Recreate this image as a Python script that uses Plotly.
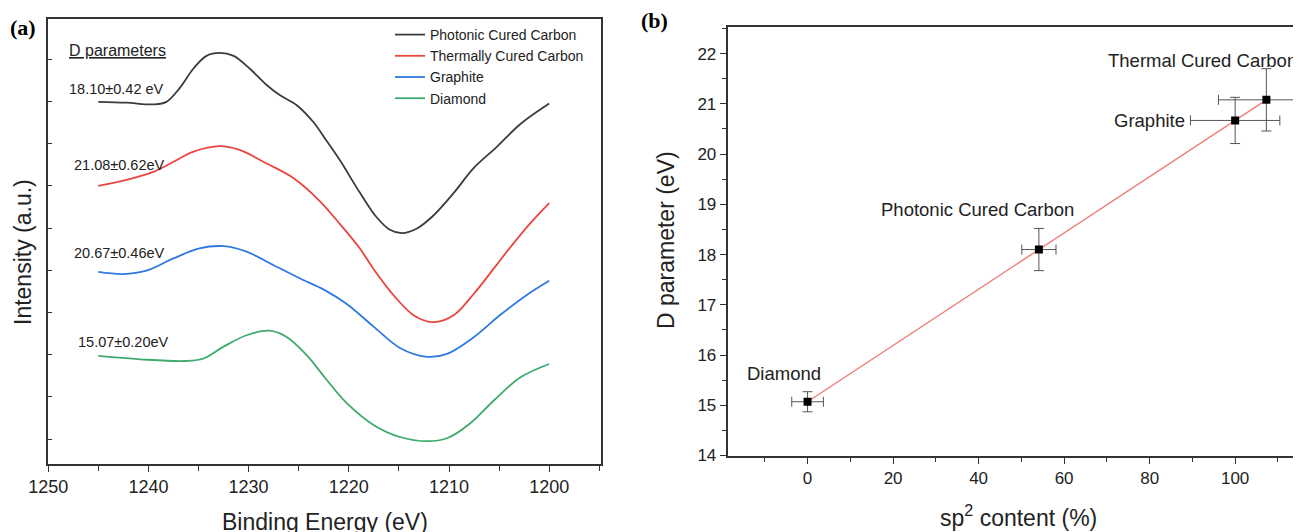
import numpy as np
import plotly.graph_objects as go

# ---------------- Panel (a): D-parameter spectra ----------------
series_names = ["Photonic Cured Carbon", "Thermally Cured Carbon", "Graphite", "Diamond"]
series_colors = ["#3c3c3c", "#e8463f", "#2f7ae0", "#3faa6c"]

energy_photonic = [1245, 1242.2, 1239.5, 1238.2, 1236.9, 1235.5, 1234.2, 1232.9, 1231.5, 1229.9,
                   1228.2, 1226.9, 1225.2, 1223.5, 1222.4, 1220.9, 1218.9, 1217.2, 1215.9, 1214.7,
                   1213.2, 1211.5, 1209.5, 1207.5, 1205.2, 1202.9, 1200]
intensity_photonic = [7.99, 7.97, 7.93, 7.99, 8.31, 8.78, 9.08, 9.15, 9.08, 8.78,
                      8.39, 8.15, 7.91, 7.50, 7.13, 6.61, 5.84, 5.25, 4.96, 4.88,
                      4.99, 5.31, 5.84, 6.43, 6.93, 7.46, 7.95]

energy_thermal = [1245, 1242.2, 1239.5, 1237.5, 1235.5, 1232.9, 1230.9, 1228.2, 1225.5, 1222.9,
                  1220.9, 1219.0, 1217.5, 1215.5, 1213.5, 1211.5, 1209.5, 1207.5, 1205.5, 1204.2,
                  1202.2, 1200]
intensity_thermal = [6.00, 6.14, 6.33, 6.57, 6.81, 6.94, 6.85, 6.53, 6.18, 5.64,
                     5.10, 4.55, 4.02, 3.40, 2.93, 2.77, 2.94, 3.45, 4.05, 4.45,
                     5.03, 5.59]

energy_graphite = [1245, 1242.5, 1240.2, 1237.5, 1234.9, 1232.5, 1230.2, 1227.5, 1224.9, 1222.4,
                   1220.2, 1217.5, 1214.9, 1212.2, 1210.2, 1207.5, 1204.9, 1202.2, 1200]
intensity_graphite = [3.96, 3.91, 3.99, 4.28, 4.52, 4.57, 4.44, 4.12, 3.81, 3.53,
                      3.20, 2.66, 2.16, 1.95, 2.02, 2.42, 2.94, 3.42, 3.75]

energy_diamond = [1245, 1240.8, 1236.2, 1234.5, 1232.5, 1230.2, 1227.9, 1226.2, 1224.2, 1222.4,
                  1220.2, 1217.5, 1214.9, 1212.2, 1210.2, 1207.9, 1205.5, 1202.9, 1200]
intensity_diamond = [1.97, 1.89, 1.85, 1.91, 2.19, 2.46, 2.57, 2.42, 1.99, 1.46,
                     0.85, 0.33, 0.05, -0.05, 0.02, 0.37, 0.92, 1.46, 1.78]

d_labels = ["18.10±0.42 eV", "21.08±0.62eV", "20.67±0.46eV", "15.07±0.20eV"]
d_label_pos = [(1248.1, 8.29), (1247.65, 6.49), (1247.65, 4.41), (1247.2, 2.31)]

# ---------------- Panel (b): D parameter vs sp2 ----------------
materials = ["Diamond", "Photonic Cured Carbon", "Graphite", "Thermal Cured Carbon"]
sp2_content = [0, 54.1, 100, 107.3]
sp2_err = [3.7, 4.0, 10.45, 11.2]
d_param = [15.07, 18.10, 20.67, 21.08]
d_err = [0.20, 0.42, 0.46, 0.62]

FONT = "Liberation Sans, Arial, sans-serif"
AX = "#333333"

fig = go.Figure()

spectra = [(energy_photonic, intensity_photonic), (energy_thermal, intensity_thermal),
           (energy_graphite, intensity_graphite), (energy_diamond, intensity_diamond)]
for (ex, iy), name, col in zip(spectra, series_names, series_colors):
    fig.add_trace(go.Scatter(x=ex, y=iy, mode="lines", name=name,
                             line=dict(color=col, width=1.8, shape="spline", smoothing=1.0),
                             xaxis="x", yaxis="y"))

# linear fit line
slope, intercept = np.polyfit(sp2_content, d_param, 1)
fit_x = np.array([min(sp2_content), max(sp2_content)])
fig.add_trace(go.Scatter(x=fit_x, y=slope * fit_x + intercept, mode="lines",
                         line=dict(color="#ec7a74", width=1.3), showlegend=False,
                         xaxis="x2", yaxis="y2"))

fig.add_trace(go.Scatter(x=sp2_content, y=d_param, mode="markers", showlegend=False,
                         marker=dict(symbol="square", size=8, color="black"),
                         error_x=dict(type="data", array=sp2_err, color="#555555", thickness=1, width=5),
                         error_y=dict(type="data", array=d_err, color="#555555", thickness=1, width=5),
                         xaxis="x2", yaxis="y2"))

# the page body has an 8px default margin: the figure is offset by it
OFF = 8
W, H = 1301 - OFF, 532 - OFF

def px(x):
    return (x - OFF) / W

def py(y):
    return 1 - (y - OFF) / H

annotations = []
# panel (a) annotations
annotations.append(dict(text="<u>D parameters</u>", x=1248.15, y=9.20, xref="x", yref="y",
                        xanchor="left", yanchor="middle", showarrow=False,
                        font=dict(family=FONT, size=16, color="#222")))
for txt, (lx, ly) in zip(d_labels, d_label_pos):
    annotations.append(dict(text=txt, x=lx, y=ly, xref="x", yref="y", xanchor="left",
                            yanchor="middle", showarrow=False,
                            font=dict(family=FONT, size=14.5, color="#222")))
# panel (b) point labels
label_specs = [
    ("Thermal Cured Carbon", 92.4, 21.86, "center"),
    ("Graphite", 88.7, 20.67, "right"),
    ("Photonic Cured Carbon", 39.7, 18.9, "center"),
    ("Diamond", -5.6, 15.63, "center"),
]
for txt, lx, ly, anc in label_specs:
    annotations.append(dict(text=txt, x=lx, y=ly, xref="x2", yref="y2", xanchor=anc,
                            yanchor="middle", showarrow=False,
                            font=dict(family=FONT, size=18.5, color="#222")))
# axis titles
annotations += [
    dict(text="Binding Energy (eV)", x=px(325), y=py(522), xref="paper", yref="paper",
         xanchor="center", yanchor="middle", showarrow=False,
         font=dict(family=FONT, size=23, color="#222")),
    dict(text="Intensity (a.u.)", x=px(23), y=py(252), xref="paper", yref="paper",
         xanchor="center", yanchor="middle", showarrow=False, textangle=-90,
         font=dict(family=FONT, size=23, color="#222")),
    dict(text="sp<sup>2</sup> content (%)", x=px(1018), y=py(516), xref="paper", yref="paper",
         xanchor="center", yanchor="middle", showarrow=False,
         font=dict(family=FONT, size=23, color="#222")),
    dict(text="D parameter (eV)", x=px(666), y=py(240), xref="paper", yref="paper",
         xanchor="center", yanchor="middle", showarrow=False, textangle=-90,
         font=dict(family=FONT, size=23, color="#222")),
    dict(text="<b>(a)</b>", x=px(23), y=py(28), xref="paper", yref="paper",
         xanchor="center", yanchor="middle", showarrow=False,
         font=dict(family="Liberation Serif, Times New Roman, serif", size=22, color="black")),
    dict(text="<b>(b)</b>", x=px(654), y=py(20), xref="paper", yref="paper",
         xanchor="center", yanchor="middle", showarrow=False,
         font=dict(family="Liberation Serif, Times New Roman, serif", size=22, color="black")),
]

fig.update_layout(
    width=W, height=H,
    margin=dict(l=0, r=0, t=0, b=0, autoexpand=False),
    paper_bgcolor="white", plot_bgcolor="white",
    font=dict(family=FONT, color="#222"),
    showlegend=True,
    legend=dict(x=px(390), y=py(19), xanchor="left", yanchor="top",
                bgcolor="rgba(0,0,0,0)", font=dict(family=FONT, size=14, color="#222"),
                tracegroupgap=0, itemwidth=30),
    xaxis=dict(domain=[px(47.5), px(601)], range=[1250.07, 1194.83], automargin=False,
               showline=True, linecolor=AX, linewidth=1.6, mirror=True,
               ticks="outside", ticklen=6, tickwidth=1.3, tickcolor=AX,
               tick0=1200, dtick=10, showgrid=False, zeroline=False,
               tickfont=dict(family=FONT, size=18, color="#222"),
               minor=dict(dtick=5, ticks="outside", ticklen=5, tickcolor=AX, tickwidth=1.3, showgrid=False)),
    yaxis=dict(domain=[py(464), py(18.7)], range=[-0.59, 9.96], automargin=False,
               showline=True, linecolor=AX, linewidth=1.6, mirror=True,
               ticks="inside", ticklen=5, tickwidth=1.3, tickcolor=AX,
               tick0=0, dtick=1, showticklabels=False, showgrid=False, zeroline=False),
    xaxis2=dict(domain=[px(727.6), 1.0], range=[-18.7, 115.4], anchor="y2", automargin=False,
                showline=True, linecolor=AX, linewidth=1.8, mirror=True,
                ticks="outside", ticklen=6, tickwidth=1.3, tickcolor=AX,
                tick0=0, dtick=20, showgrid=False, zeroline=False,
                tickfont=dict(family=FONT, size=17, color="#222"),
                minor=dict(dtick=10, ticks="outside", ticklen=4, tickcolor=AX, tickwidth=1.3, showgrid=False)),
    yaxis2=dict(domain=[py(456), py(27)], range=[13.99, 22.53], anchor="x2", automargin=False,
                showline=True, linecolor=AX, linewidth=1.8, mirror=False,
                ticks="outside", ticklen=6, tickwidth=1.3, tickcolor=AX,
                tick0=14, dtick=1, showgrid=False, zeroline=False,
                tickfont=dict(family=FONT, size=17, color="#222"),
                minor=dict(dtick=0.5, ticks="outside", ticklen=4, tickcolor=AX, tickwidth=1.3, showgrid=False)),
    annotations=annotations,
)

fig.write_html("out.html")
